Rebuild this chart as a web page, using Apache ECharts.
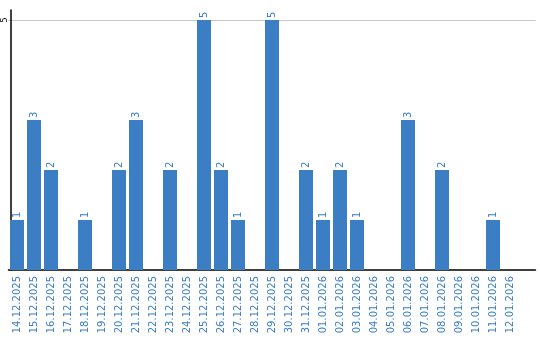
<!DOCTYPE html>
<html>
<head>
<meta charset="utf-8">
<script src="https://cdn.jsdelivr.net/npm/echarts@6/dist/echarts.min.js"></script>
<style>html,body{margin:0;padding:0;background:#fff}#c{width:540px;height:340px}</style>
</head>
<body>
<div id="c"></div>
<script>
const categories = ['14.12.2025','15.12.2025','16.12.2025','17.12.2025','18.12.2025','19.12.2025','20.12.2025','21.12.2025','22.12.2025','23.12.2025','24.12.2025','25.12.2025','26.12.2025','27.12.2025','28.12.2025','29.12.2025','30.12.2025','31.12.2025','01.01.2026','02.01.2026','03.01.2026','04.01.2026','05.01.2026','06.01.2026','07.01.2026','08.01.2026','09.01.2026','10.01.2026','11.01.2026','12.01.2026'];
const values = [1,3,2,0,1,0,2,3,0,2,0,5,2,1,0,5,0,2,1,2,1,0,0,3,0,2,0,0,1,0];
const yTicks = [5];

const blue = '#3b7ec4';
const chart = echarts.init(document.getElementById('c'));
chart.setOption({
  animation: false,
  grid: { left: 8.5, top: 10, width: 527, height: 260, containLabel: false, outerBoundsMode: 'none' },
  xAxis: {
    type: 'category',
    data: categories,
    max: categories.length,
    axisLine: { lineStyle: { color: '#000', width: 1.5 } },
    axisTick: { show: false },
    axisLabel: { rotate: 90, interval: 0, color: blue, fontFamily: 'DejaVu Sans', fontSize: 10, margin: 6 },
    splitLine: { show: false }
  },
  yAxis: {
    type: 'value',
    min: 0, max: 5.2, interval: 5,
    offset: -2,
    axisLine: { show: true, onZero: false, lineStyle: { color: '#000', width: 1.5 } },
    axisTick: { show: false },
    splitLine: { show: true, showMinLine: false, showMaxLine: false, lineStyle: { color: '#c8c8c8', width: 1 } },
    axisLabel: {
      rotate: 90, color: '#000', fontFamily: 'DejaVu Sans', fontSize: 8, margin: 2,
      showMinLabel: false, showMaxLabel: false,
      formatter: v => yTicks.includes(v) ? String(v) : ''
    }
  },
  series: [{
    type: 'bar',
    data: values.map(v => v === 0 ? null : v),
    barWidth: 14,
    itemStyle: { color: blue },
    label: {
      show: true, position: 'top', rotate: 90, align: 'left', verticalAlign: 'middle',
      distance: 2, color: blue, fontFamily: 'DejaVu Sans', fontSize: 10
    }
  }]
});
</script>
</body>
</html>
